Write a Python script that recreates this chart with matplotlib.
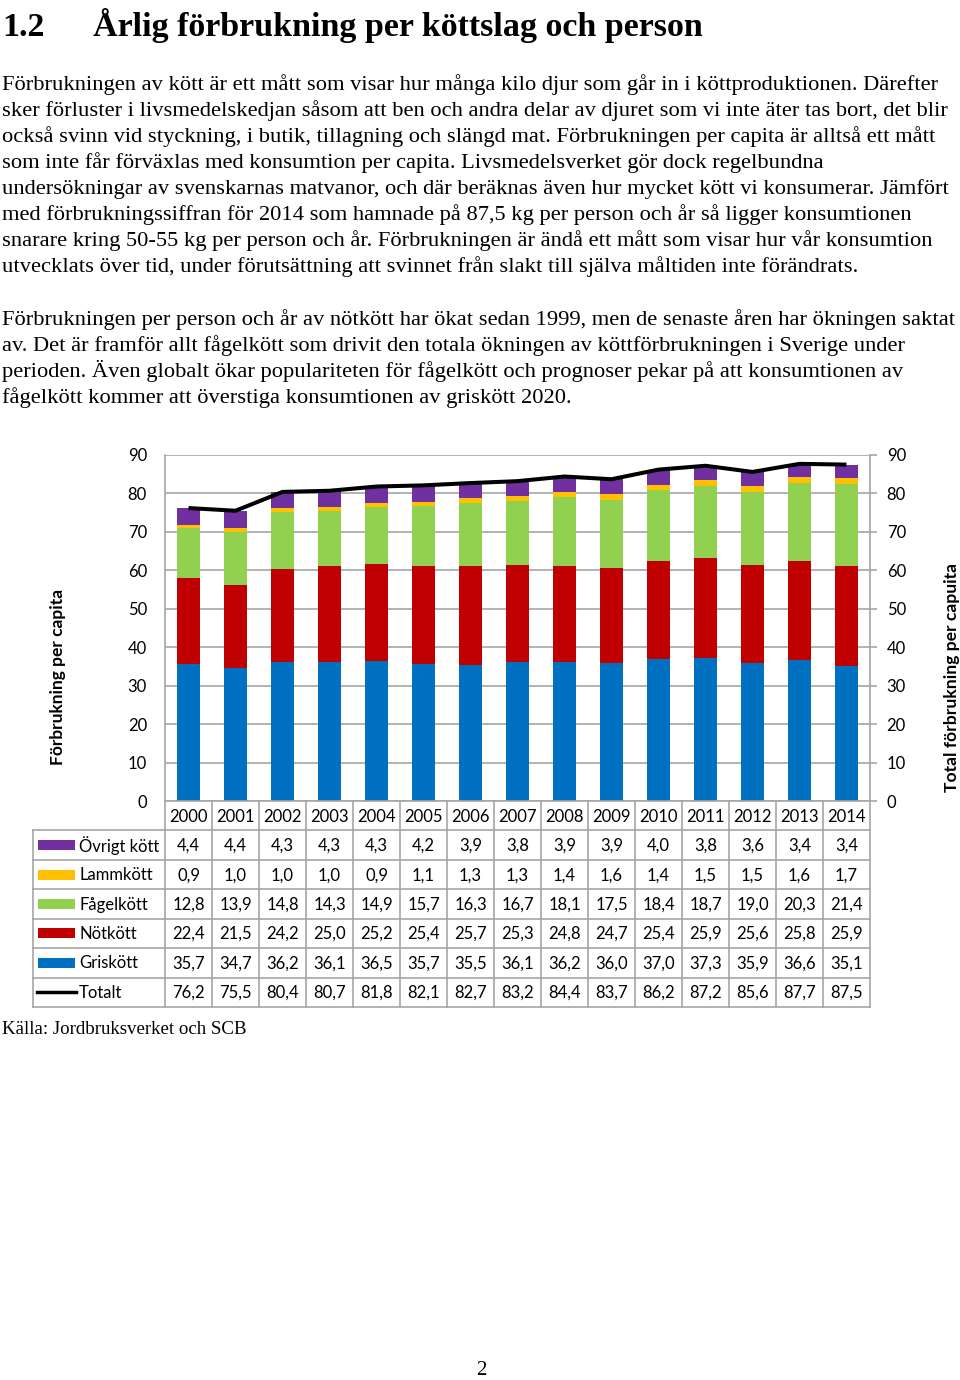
# -*- coding: utf-8 -*-
"""
Page with the yearly meat consumption chart (stacked bars + total line)
and a data table below it.
"""

import matplotlib.pyplot as plt
from matplotlib.patches import Rectangle

# ---- data -------------------------------------------------------------
years = ['2000', '2001', '2002', '2003', '2004', '2005', '2006', '2007',
         '2008', '2009', '2010', '2011', '2012', '2013', '2014']
ovrigt = [4.4, 4.4, 4.3, 4.3, 4.3, 4.2, 3.9, 3.8, 3.9, 3.9, 4.0, 3.8, 3.6,
          3.4, 3.4]
lamm = [0.9, 1.0, 1.0, 1.0, 0.9, 1.1, 1.3, 1.3, 1.4, 1.6, 1.4, 1.5, 1.5,
        1.6, 1.7]
fagel = [12.8, 13.9, 14.8, 14.3, 14.9, 15.7, 16.3, 16.7, 18.1, 17.5, 18.4,
         18.7, 19.0, 20.3, 21.4]
notkott = [22.4, 21.5, 24.2, 25.0, 25.2, 25.4, 25.7, 25.3, 24.8, 24.7, 25.4,
           25.9, 25.6, 25.8, 25.9]
gris = [35.7, 34.7, 36.2, 36.1, 36.5, 35.7, 35.5, 36.1, 36.2, 36.0, 37.0,
        37.3, 35.9, 36.6, 35.1]
totalt = [76.2, 75.5, 80.4, 80.7, 81.8, 82.1, 82.7, 83.2, 84.4, 83.7, 86.2,
          87.2, 85.6, 87.7, 87.5]

y_ticks = [0, 10, 20, 30, 40, 50, 60, 70, 80, 90]

title_num = '1.2'
title_text = 'Årlig förbrukning per köttslag och person'
para1 = [
    'Förbrukningen av kött är ett mått som visar hur många kilo djur som går in i köttproduktionen. Därefter',
    'sker förluster i livsmedelskedjan såsom att ben och andra delar av djuret som vi inte äter tas bort, det blir',
    'också svinn vid styckning, i butik, tillagning och slängd mat. Förbrukningen per capita är alltså ett mått',
    'som inte får förväxlas med konsumtion per capita. Livsmedelsverket gör dock regelbundna',
    'undersökningar av svenskarnas matvanor, och där beräknas även hur mycket kött vi konsumerar. Jämfört',
    'med förbrukningssiffran för 2014 som hamnade på 87,5 kg per person och år så ligger konsumtionen',
    'snarare kring 50-55 kg per person och år. Förbrukningen är ändå ett mått som visar hur vår konsumtion',
    'utvecklats över tid, under förutsättning att svinnet från slakt till själva måltiden inte förändrats.',
]
para2 = [
    'Förbrukningen per person och år av nötkött har ökat sedan 1999, men de senaste åren har ökningen saktat',
    'av. Det är framför allt fågelkött som drivit den totala ökningen av köttförbrukningen i Sverige under',
    'perioden. Även globalt ökar populariteten för fågelkött och prognoser pekar på att konsumtionen av',
    'fågelkött kommer att överstiga konsumtionen av griskött 2020.',
]
source = 'Källa: Jordbruksverket och SCB'

# stacking order bottom -> top
series = [('Griskött', gris, '#0070C0'),
          ('Nötkött', notkott, '#C00000'),
          ('Fågelkött', fagel, '#92D050'),
          ('Lammkött', lamm, '#FFC000'),
          ('Övrigt kött', ovrigt, '#7030A0')]

# ---- figure / helpers -------------------------------------------------
W, H = 960, 1380
fig = plt.figure(figsize=(W / 100, H / 100), dpi=100)

SERIF = 'Liberation Serif'
SANS = 'Lato'
GRID = '#a6a6a6'
FS = 12  # chart text size


def fy(py):
    """pixel row (from top) -> figure fraction"""
    return 1 - py / H


# ---- page text ---------------------------------------------------------
fig.text(2 / W, fy(36), title_num, family=SERIF, weight='bold', size=24.5,
         va='baseline')
fig.text(93 / W, fy(36), title_text, family=SERIF, weight='bold', size=24.5,
         va='baseline')

for i, line in enumerate(para1):
    fig.text(2 / W, fy(90 + 26 * i), line, family=SERIF, size=16.2,
             va='baseline')
for i, line in enumerate(para2):
    fig.text(2 / W, fy(325 + 26 * i), line, family=SERIF, size=16.2,
             va='baseline')

fig.text(2 / W, fy(1034), source, family=SERIF, size=13.6, va='baseline')
fig.text(481 / W, fy(1375), '2', family=SERIF, size=15, ha='center',
         va='baseline')

# ---- chart --------------------------------------------------------------
left_px, right_px, top_px, bot_px = 165, 870, 455, 801
ax = fig.add_axes([left_px / W, fy(bot_px), (right_px - left_px) / W,
                   (bot_px - top_px) / H])
x = list(range(len(years)))

bottom = [0] * len(years)
for name, vals, col in series:
    ax.bar(x, vals, width=0.51, bottom=bottom, color=col, zorder=2)
    bottom = [b + v for b, v in zip(bottom, vals)]

ax.plot(x, totalt, color='black', lw=2.9, zorder=3, solid_capstyle='butt')

ax.set_xlim(-0.5, len(years) - 0.5)
ax.set_ylim(0, 90)
ax.set_yticks(y_ticks)
ax.set_xticks([])
ax.grid(axis='y', color=GRID, lw=1.2, zorder=0)
for sp in ax.spines.values():
    sp.set_color(GRID)
    sp.set_linewidth(1.2)
ax.spines['top'].set_visible(False)
ax.tick_params(axis='y', left=False, length=0, labelsize=FS, pad=13,
               labelcolor='black')
for lab in ax.get_yticklabels():
    lab.set_family(SANS)

ax.set_ylabel('Förbrukning per capita', family=SANS, weight='bold',
              size=12.5)
ax.yaxis.set_label_coords((66 - left_px) / (right_px - left_px),
                          (bot_px - 677) / (bot_px - top_px))

ax2 = ax.twinx()
ax2.set_ylim(0, 90)
ax2.set_yticks(y_ticks)
ax2.tick_params(axis='y', right=True, length=5, width=1.2, color=GRID,
                labelsize=FS, pad=7)
for lab in ax2.get_yticklabels():
    lab.set_family(SANS)
for sp in ax2.spines.values():
    sp.set_visible(False)
ax2.set_ylabel('Total förbrukning per capuita', family=SANS, weight='bold',
               size=12.6, rotation=90)
ax2.yaxis.set_label_coords((944 - left_px) / (right_px - left_px),
                           (bot_px - 678) / (bot_px - top_px))

# ---- data table ----------------------------------------------------------
tab_left, tab_bot = 33, 1007
cat_px = (right_px - left_px) / len(years)
x_left = -0.5 - (left_px - tab_left) / cat_px

tax = fig.add_axes([tab_left / W, fy(tab_bot), (right_px - tab_left) / W,
                    (tab_bot - bot_px) / H])
tax.set_xlim(x_left, len(years) - 0.5)
tax.set_ylim(7, 0)
tax.axis('off')


def px2cat(px):
    return -0.5 + (px - left_px) / cat_px


# grid lines of the table
for r in range(1, 8):
    tax.plot([x_left, len(years) - 0.5], [r, r], color=GRID, lw=1.2,
             clip_on=False)
tax.plot([x_left, x_left], [1, 7], color=GRID, lw=1.2, clip_on=False)
for c in range(len(years) + 1):
    tax.plot([c - 0.5, c - 0.5], [0, 7], color=GRID, lw=1.2, clip_on=False)

# header row with years
for i, yr in enumerate(years):
    tax.text(i, 0.55, yr, ha='center', va='center', family=SANS, size=FS)

table_rows = [('Övrigt kött', ovrigt, '#7030A0'),
              ('Lammkött', lamm, '#FFC000'),
              ('Fågelkött', fagel, '#92D050'),
              ('Nötkött', notkott, '#C00000'),
              ('Griskött', gris, '#0070C0'),
              ('Totalt', totalt, 'black')]

for r, (name, vals, col) in enumerate(table_rows, start=1):
    yc = r + 0.5
    k0, k1 = px2cat(38), px2cat(75)
    if name == 'Totalt':
        tax.plot([px2cat(37), px2cat(76)], [yc, yc], color='black', lw=2.5)
    else:
        tax.add_patch(Rectangle((k0, yc - 0.17), k1 - k0, 0.34, color=col,
                                lw=0))
    tax.text(px2cat(79), yc + 0.02, name, ha='left', va='center',
             family=SANS, size=FS)
    for i, v in enumerate(vals):
        tax.text(i, yc + 0.02, f'{v:.1f}'.replace('.', ','), ha='center',
                 va='center', family=SANS, size=FS)

fig.savefig('out.png', dpi=100)
